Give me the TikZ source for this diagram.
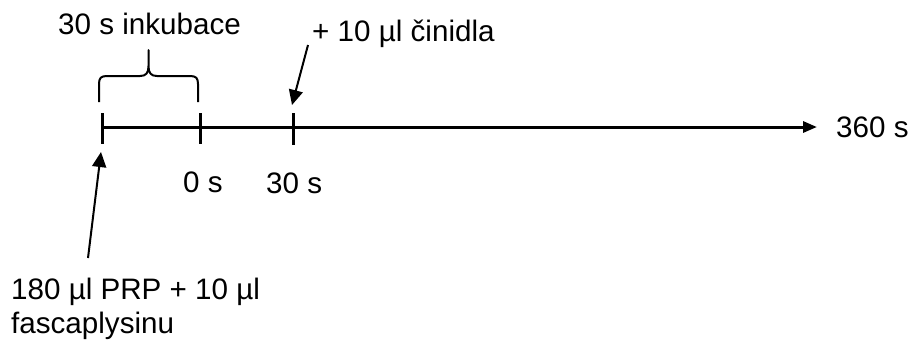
\documentclass[tikz,border=0pt]{standalone}
\usepackage{fontspec}
\setmainfont{Liberation Sans}
\usetikzlibrary{arrows.meta}
\begin{document}
\begin{tikzpicture}[x=1pt,y=-1pt,
  lbl/.style={inner sep=0pt, anchor=base west, font=\fontsize{29.6}{35}\selectfont},
  axisline/.style={line width=3pt, -{Triangle[length=14pt,width=11pt]}},
  tickmark/.style={line width=3pt},
  pointer/.style={line width=2pt, -{Triangle[length=15pt,width=14pt]}},
  bracestyle/.style={line width=2pt, line join=round}]
\useasboundingbox (0,0) rectangle (910,341);
% axis
\coordinate (start) at (102,127);
\coordinate (end) at (817,127);
\draw[axisline] (start) -- (end);
% ticks
\coordinate (k1a) at (102,113); \coordinate (k1b) at (102,144);
\coordinate (k2a) at (200,113); \coordinate (k2b) at (200,144);
\coordinate (k3a) at (293,113); \coordinate (k3b) at (293,145);
\draw[tickmark] (k1a) -- (k1b);
\draw[tickmark] (k2a) -- (k2b);
\draw[tickmark] (k3a) -- (k3b);
% labels
\node[lbl] (inc) at (58,34) {30 s inkubace};
\node[lbl] (reag) at (312,41) {+ 10 µl činidla};
\node[lbl] (t0) at (183,192) {0 s};
\node[lbl] (t30) at (266,193) {30 s};
\node[lbl] (tend) at (836,137) {360 s};
\node[lbl] (prp1) at (11,299) {180 µl PRP + 10 µl};
\node[lbl] (prp2) at (11,333) {fascaplysinu};
% brace
\draw[bracestyle] (99,102) -- (99,84) .. controls (99,78) and (101,76) .. (107,76) -- (140,76)
  .. controls (146,76) and (148.5,73) .. (148.5,66) -- (148.5,50) -- (148.5,66)
  .. controls (148.5,73) and (151,76) .. (157,76) -- (190,76)
  .. controls (196,76) and (198,78) .. (198,84) -- (198,102);
% pointers
\coordinate (reagfoot) at (308,45);
\coordinate (reagtip) at (292,105);
\draw[pointer] (reagfoot) -- (reagtip);
\coordinate (prpfoot) at (88,258);
\coordinate (prptip) at (101,152);
\draw[pointer] (prpfoot) -- (prptip);
\end{tikzpicture}
\end{document}
